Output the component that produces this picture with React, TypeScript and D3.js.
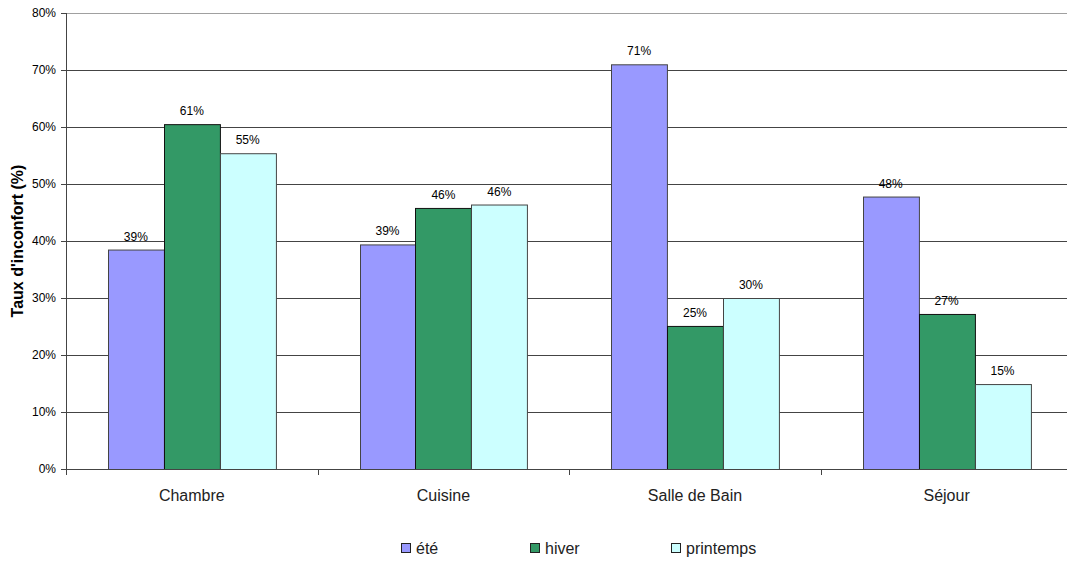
import { useEffect, useRef } from 'react';
import * as d3 from 'd3';

const categories = ['Chambre', 'Cuisine', 'Salle de Bain', 'Séjour'];
const seriesNames = ['été', 'hiver', 'printemps'];
const ete = [38.5, 39.4, 71.0, 47.8];
const hiver = [60.5, 45.8, 25.1, 27.2];
const printemps = [55.4, 46.4, 30.0, 14.9];
const yTicks = [0, 10, 20, 30, 40, 50, 60, 70, 80];
const colors = ['#9999FF', '#339966', '#CCFFFF'];

export default function App() {
  const svgRef = useRef<SVGSVGElement>(null);

  useEffect(() => {
    if (!svgRef.current) return;
    const W = 1067, H = 561;
    const font = 'Liberation Sans, Arial, sans-serif';
    const svg = d3.select(svgRef.current).attr('width', W).attr('height', H);
    svg.selectAll('*').remove();

    const values = [ete, hiver, printemps];
    const left = 66, top = 13, bottom = 469;

    const x = d3.scaleBand<string>().domain(categories).range([left, left + 251.6 * 4]).padding(0);
    const xs = d3.scaleBand<string>().domain(seriesNames).range([0, x.bandwidth()])
      .paddingInner(0).paddingOuter(0.75);
    const y = d3.scaleLinear().domain([0, 80]).range([bottom, top]);

    // gridlines
    svg.append('g')
      .selectAll('line')
      .data(yTicks.filter(t => t > 0))
      .enter()
      .append('line')
      .attr('x1', left).attr('x2', W)
      .attr('y1', d => y(d) + 0.5).attr('y2', d => y(d) + 0.5)
      .attr('stroke', d => (d === 80 ? '#a0a0a0' : '#444'))
      .attr('stroke-width', 1);

    // bars
    values.forEach((vals, si) => {
      const g = svg.append('g');
      g.selectAll('rect')
        .data(vals)
        .enter()
        .append('rect')
        .attr('x', (_, i) => Math.round((x(categories[i]) || 0) + (xs(seriesNames[si]) || 0)) + 0.5)
        .attr('y', d => y(d) + 0.5)
        .attr('width', xs.bandwidth())
        .attr('height', d => bottom - y(d))
        .attr('fill', colors[si])
        .attr('stroke', si === 1 ? '#111' : '#444')
        .attr('stroke-width', 1);
      g.selectAll('text')
        .data(vals)
        .enter()
        .append('text')
        .attr('x', (_, i) => (x(categories[i]) || 0) + (xs(seriesNames[si]) || 0) + xs.bandwidth() / 2)
        .attr('y', d => y(d) - 9)
        .attr('text-anchor', 'middle')
        .attr('font-family', font)
        .attr('font-size', 12)
        .attr('fill', '#000')
        .text(d => `${Math.round(d)}%`);
    });

    // axes
    svg.append('line')
      .attr('x1', left + 0.5).attr('x2', left + 0.5)
      .attr('y1', top).attr('y2', bottom + 6)
      .attr('stroke', '#444');
    svg.append('line')
      .attr('x1', left).attr('x2', W)
      .attr('y1', bottom + 0.5).attr('y2', bottom + 0.5)
      .attr('stroke', '#444');

    const yAxis = svg.append('g');
    yTicks.forEach(t => {
      yAxis.append('line')
        .attr('x1', left - 5).attr('x2', left)
        .attr('y1', y(t) + 0.5).attr('y2', y(t) + 0.5)
        .attr('stroke', '#444');
      yAxis.append('text')
        .attr('x', left - 10).attr('y', y(t) + 4)
        .attr('text-anchor', 'end')
        .attr('font-family', font).attr('font-size', 12)
        .text(`${t}%`);
    });

    // category separators + labels
    categories.forEach((c, i) => {
      const x0 = x(c) || 0;
      if (i > 0) {
        svg.append('line')
          .attr('x1', Math.round(x0) + 0.5).attr('x2', Math.round(x0) + 0.5)
          .attr('y1', bottom).attr('y2', bottom + 6)
          .attr('stroke', '#444');
      }
      svg.append('text')
        .attr('x', x0 + x.bandwidth() / 2)
        .attr('y', bottom + 32)
        .attr('text-anchor', 'middle')
        .attr('font-family', font).attr('font-size', 16)
        .attr('fill', '#222')
        .text(c);
    });

    // y title
    svg.append('text')
      .attr('transform', `translate(23, ${(top + bottom) / 2}) rotate(-90)`)
      .attr('text-anchor', 'middle')
      .attr('font-family', font).attr('font-size', 16).attr('font-weight', 'bold')
      .text("Taux d'inconfort (%)");

    // legend
    const legendX = [401, 530, 671];
    seriesNames.forEach((s, i) => {
      svg.append('rect')
        .attr('x', legendX[i] + 0.5).attr('y', 543.5)
        .attr('width', 9).attr('height', 9)
        .attr('fill', colors[i]).attr('stroke', '#222');
      svg.append('text')
        .attr('x', legendX[i] + 15).attr('y', 554)
        .attr('font-family', font).attr('font-size', 16)
        .attr('fill', '#222')
        .text(s);
    });
  }, []);

  return (
    <div style={{ position: 'absolute', left: 0, top: 0, background: '#fff' }}>
      <svg ref={svgRef} style={{ display: 'block' }}></svg>
    </div>
  );
}
